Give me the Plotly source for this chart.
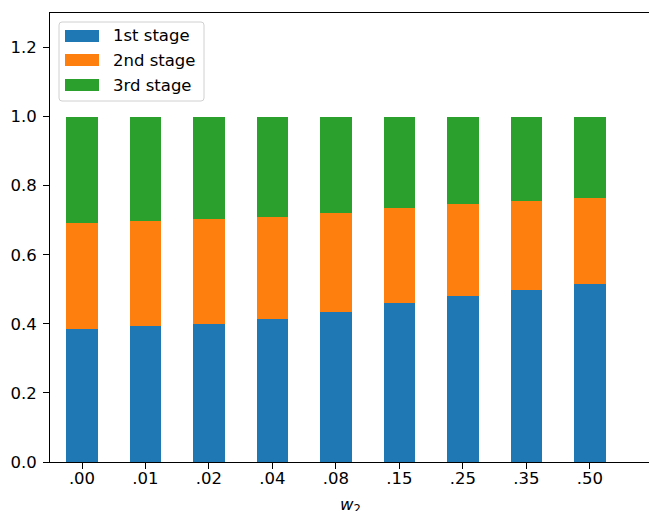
import plotly.graph_objects as go

categories = [".00", ".01", ".02", ".04", ".08", ".15", ".25", ".35", ".50"]
series_names = ["1st stage", "2nd stage", "3rd stage"]
stage1 = [0.384, 0.394, 0.400, 0.415, 0.435, 0.459, 0.481, 0.499, 0.516]
stage2 = [0.309, 0.305, 0.304, 0.295, 0.287, 0.277, 0.267, 0.258, 0.249]
stage3 = [0.307, 0.301, 0.296, 0.290, 0.278, 0.264, 0.252, 0.243, 0.235]
y_ticks = [0.0, 0.2, 0.4, 0.6, 0.8, 1.0, 1.2]
x_title = "<i>w</i><sub>2</sub>"
colors = ["#1f77b4", "#ff7f0e", "#2ca02c"]

W, H = 649, 511
L, R, T, B = 50, 0, 13, 49
pw, ph = W - L - R, H - T - B

def px(x):
    return (x - L) / pw

def py(y):
    return (H - B - y) / ph

FONT = "DejaVu Sans"
FS = 16.5

fig = go.Figure()
for name, vals, c in zip(series_names, [stage1, stage2, stage3], colors):
    fig.add_trace(go.Bar(x=categories, y=vals, name=name, marker=dict(color=c, line=dict(width=0)),
                         width=0.5, showlegend=False))

shapes = []
annotations = []
# legend box (rounded)
x0, x1, y0, y1, r = 59, 204, 22, 101, 3
path = (f"M{px(x0+r)},{py(y0)} L{px(x1-r)},{py(y0)} Q{px(x1)},{py(y0)} {px(x1)},{py(y0+r)} "
        f"L{px(x1)},{py(y1-r)} Q{px(x1)},{py(y1)} {px(x1-r)},{py(y1)} "
        f"L{px(x0+r)},{py(y1)} Q{px(x0)},{py(y1)} {px(x0)},{py(y1-r)} "
        f"L{px(x0)},{py(y0+r)} Q{px(x0)},{py(y0)} {px(x0+r)},{py(y0)} Z")
shapes.append(dict(type="path", xref="paper", yref="paper", path=path,
                   line=dict(color="#d0d0d0", width=1), fillcolor="rgba(255,255,255,0.8)"))
row_y = [36, 60, 85]
for name, c, ry in zip(series_names, colors, row_y):
    shapes.append(dict(type="rect", xref="paper", yref="paper",
                       x0=px(65), x1=px(99), y0=py(ry - 6), y1=py(ry + 6),
                       fillcolor=c, line=dict(width=0)))
    annotations.append(dict(xref="paper", yref="paper", x=px(111), y=py(ry), text=name,
                            showarrow=False, xanchor="left", yanchor="middle",
                            font=dict(family=FONT, size=FS, color="black")))

# x-axis title
annotations.append(dict(xref="paper", yref="paper", x=px(350), y=py(493), text=x_title,
                        showarrow=False, xanchor="center", yanchor="top",
                        font=dict(family=FONT, size=FS, color="black")))

fig.update_layout(
    barmode="stack",
    width=W, height=H,
    margin=dict(l=L, r=R, t=T, b=B, pad=0),
    plot_bgcolor="white", paper_bgcolor="white",
    font=dict(family=FONT, size=FS, color="black"),
    shapes=shapes, annotations=annotations,
    bargap=0,
)
fig.update_xaxes(
    type="category", range=[-0.504, 8.93],
    showline=True, linecolor="black", linewidth=1, mirror=True,
    ticks="outside", ticklen=6, tickwidth=1, tickcolor="black",
    ticklabelstandoff=-5,
    showgrid=False, zeroline=False,
)
fig.update_yaxes(
    range=[0, 1.3], tickvals=y_ticks, tickformat=".1f",
    showline=True, linecolor="black", linewidth=1,
    ticks="outside", ticklen=6, tickwidth=1, tickcolor="black",
    ticklabelstandoff=3,
    showgrid=False, zeroline=False,
)

fig.write_html("out.html")
